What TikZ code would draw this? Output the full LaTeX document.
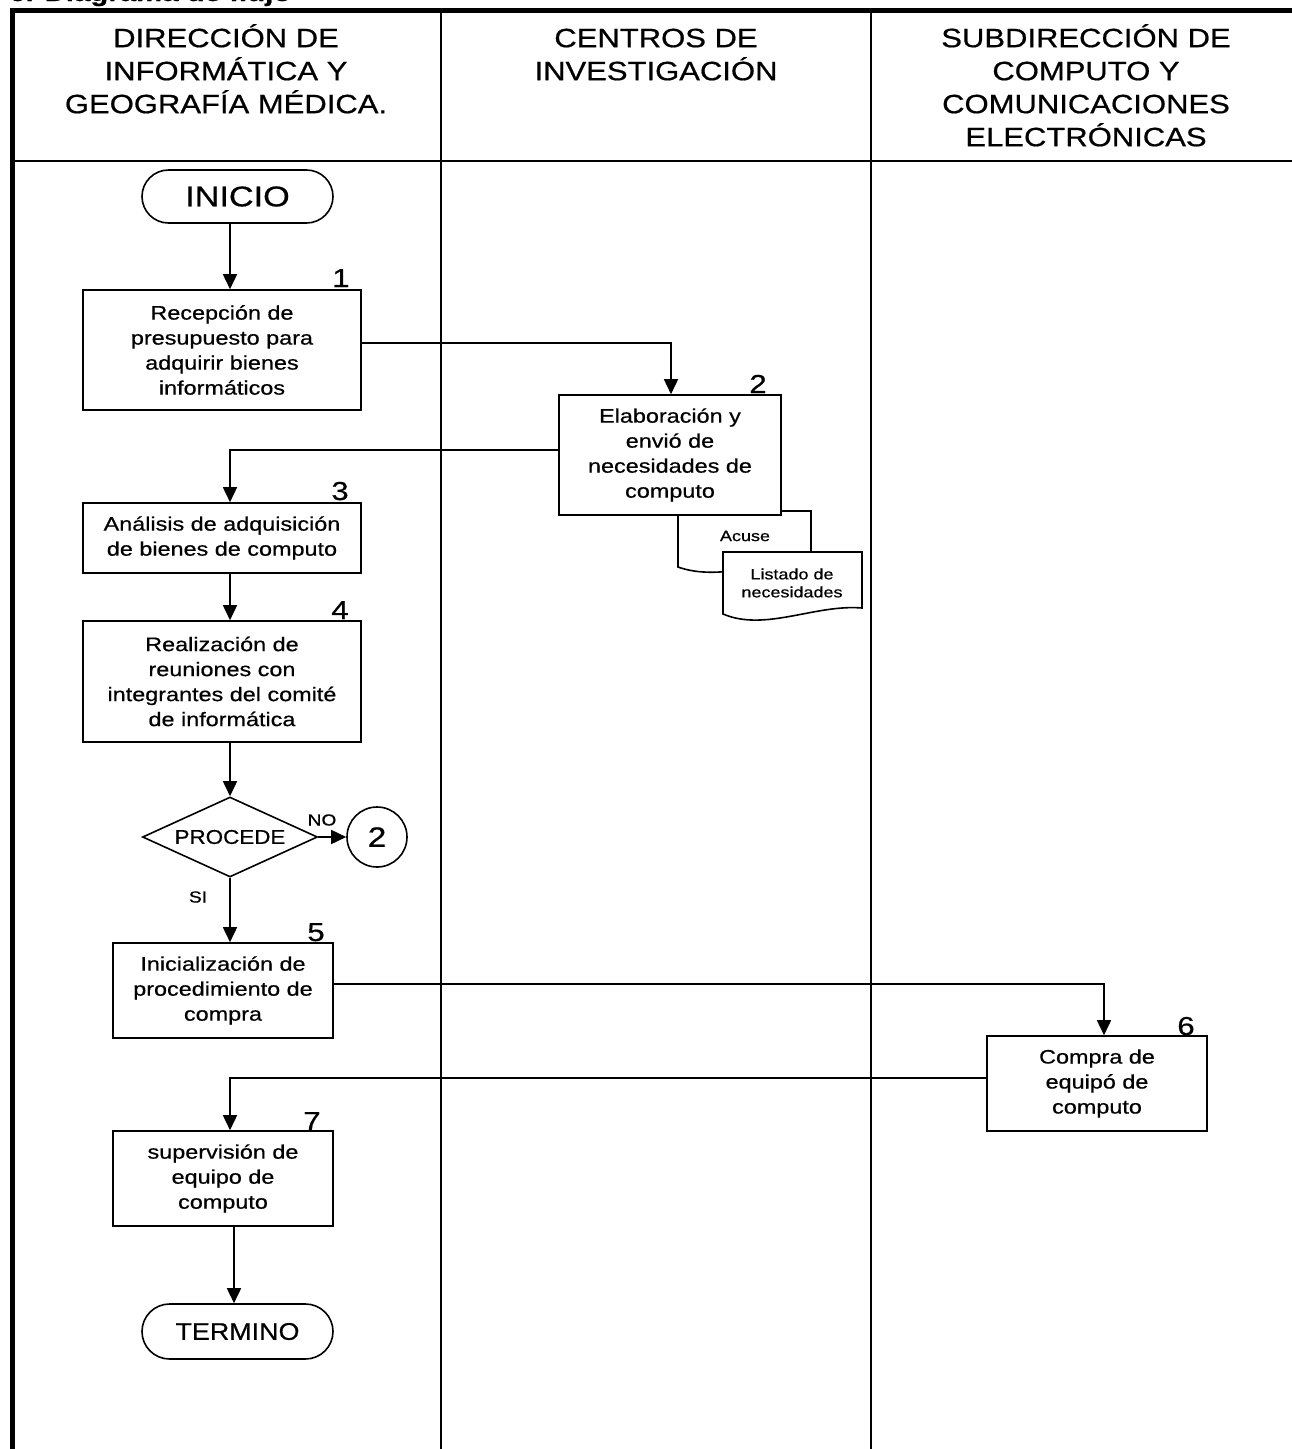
\documentclass[tikz,border=0pt]{standalone}
\usepackage{fontspec}
\setmainfont[FakeStretch=1.2,FakeBold=0.6]{Liberation Sans}
\newfontfamily\narrowfam[FakeStretch=1.12,FakeBold=0.6]{Liberation Sans}
\newfontfamily\hdrfam[FakeStretch=1.17,FakeBold=0.6]{Liberation Sans}
\usetikzlibrary{arrows.meta,shapes.geometric,shapes.misc}
\newcommand\hdrfont{\hdrfam\fontsize{26.5}{33}\selectfont}
\newcommand\boxfont{\fontsize{19.5}{25}\selectfont}
\newcommand\numfont{\fontsize{26}{30}\selectfont}
\newcommand\docfont{\fontsize{15}{18}\selectfont}
\newcommand\lblfont{\fontsize{16}{18}\selectfont}
\begin{document}
\begin{tikzpicture}[x=1pt,y=-1pt,
  procbox/.style={draw, line width=1.6pt, fill=white, align=center, inner sep=0pt, font=\boxfont},
  termbox/.style={draw, line width=1.6pt, fill=white, rounded rectangle, inner sep=0pt},
  numlbl/.style={anchor=base, inner sep=0pt, font=\numfont},
  hdr/.style={anchor=north, align=center, inner sep=0pt, font=\hdrfont},
  arr/.style={line width=1.6pt, -{Triangle[length=15pt,width=14pt]}},
  frame/.style={line width=5pt},
  divider/.style={line width=2.4pt},
  docshape/.style={draw, line width=1.6pt, fill=white}
]
\useasboundingbox (0,0) rectangle (1292,1449);

% clipped title at the top
\node[anchor=base west, inner sep=0pt, font=\fontsize{24.5}{28}\selectfont\bfseries] (title) at (9,1) {6. Diagrama de flujo};

% frame and lanes
\draw[frame] (12,1452) -- (12,10) -- (1295,10);
\draw[divider] (441,10) -- (441,1452);
\draw[divider] (871,10) -- (871,1452);
\draw[line width=2pt] (12,161) -- (1295,161);

% column coordinates
\coordinate (colA) at (230,0);
\coordinate (colB) at (234,0);
\coordinate (colC) at (1104,0);

% headers
\node[hdr] (h1) at (226,24) {\vphantom{Ó}DIRECCIÓN DE\\INFORMÁTICA Y\\GEOGRAFÍA MÉDICA.};
\node[hdr] (h2) at (656,24) {\vphantom{Ó}CENTROS DE\\INVESTIGACIÓN};
\node[hdr] (h3) at (1086,24) {\vphantom{Ó}SUBDIRECCIÓN DE\\COMPUTO Y\\COMUNICACIONES\\ELECTRÓNICAS};

% documents behind box 2
\draw[docshape] (678,511) -- (811,511) -- (811,560)
   .. controls (770,560) and (720,582) .. (678,567) -- cycle;
\node[inner sep=0pt, font=\docfont] (acuse) at (745,536) {Acuse};
\draw[docshape] (723,552) -- (862,552) -- (862,608)
   .. controls (815,604) and (765,632) .. (723,614) -- cycle;
\node[inner sep=0pt, align=center, font=\docfont] (listado) at (792,583) {Listado de\\necesidades};

% nodes
\node[termbox, minimum width=191pt, minimum height=53pt, font=\fontsize{28.5}{30}\selectfont] (inicio) at (237.5,196.5) {INICIO};
\node[procbox, minimum width=278pt, minimum height=120pt] (b1) at (222,350) {Recepción de\\presupuesto para\\adquirir bienes\\informáticos};
\node[procbox, minimum width=222pt, minimum height=120pt] (b2) at (670,455) {Elaboración y\\envió de\\necesidades de\\computo};
\node[procbox, minimum width=278pt, minimum height=70pt] (b3) at (222,538) {Análisis de adquisición\\de bienes de computo};
\node[procbox, minimum width=278pt, minimum height=121pt] (b4) at (222,681.5) {Realización de\\reuniones con\\integrantes del comité\\de informática};
\node[draw, line width=1.6pt, fill=white, diamond, aspect=2.19, minimum width=175pt, minimum height=80pt, inner sep=0pt, font=\narrowfam\fontsize{20}{22}\selectfont] (dec) at (230,837) {PROCEDE};
\node[draw, line width=1.6pt, fill=white, circle, minimum size=60pt, inner sep=0pt, font=\fontsize{28}{30}\selectfont] (con) at (377,837) {2};
\node[procbox, minimum width=220pt, minimum height=95pt] (b5) at (223,990.5) {Inicialización de\\procedimiento de\\compra};
\node[procbox, minimum width=220pt, minimum height=95pt] (b6) at (1097,1083.5) {Compra de\\equipó de\\computo};
\node[procbox, minimum width=220pt, minimum height=95pt] (b7) at (223,1178.5) {supervisión de\\equipo de\\computo};
\node[termbox, minimum width=191pt, minimum height=55pt, font=\narrowfam\fontsize{24}{26}\selectfont] (termino) at (237.5,1331.5) {TERMINO};

% step numbers
\node[numlbl] (n1) at (341,287) {1};
\node[numlbl] (n2) at (758,393) {2};
\node[numlbl] (n3) at (340,500) {3};
\node[numlbl] (n4) at (340,619) {4};
\node[numlbl] (n5) at (316,941) {5};
\node[numlbl] (n6) at (1186,1035) {6};
\node[numlbl] (n7) at (312,1130) {7};

% connectors
\draw[arr] (inicio.south -| colA) -- (b1.north -| colA);
\draw[arr] ([yshift=7pt]b1.east) -| ([xshift=1pt]b2.north);
\draw[arr] ([yshift=5pt]b2.west) -| (b3.north -| colA);
\draw[arr] (b3.south -| colA) -- (b4.north -| colA);
\draw[arr] (b4.south -| colA) -- (dec.north);
\draw[arr] (dec.east) -- (con.west);
\node[inner sep=0pt, font=\lblfont] (nolbl) at (322,820) {NO};
\draw[arr] (dec.south) -- (b5.north -| colA);
\node[inner sep=0pt, font=\lblfont] (silbl) at (198,897) {SI};
\draw[arr] ([yshift=6.5pt]b5.east) -| (b6.north -| colC);
\draw[arr] ([yshift=5.5pt]b6.west) -| (b7.north -| colA);
\draw[arr] (b7.south -| colB) -- (termino.north -| colB);
\end{tikzpicture}
\end{document}
